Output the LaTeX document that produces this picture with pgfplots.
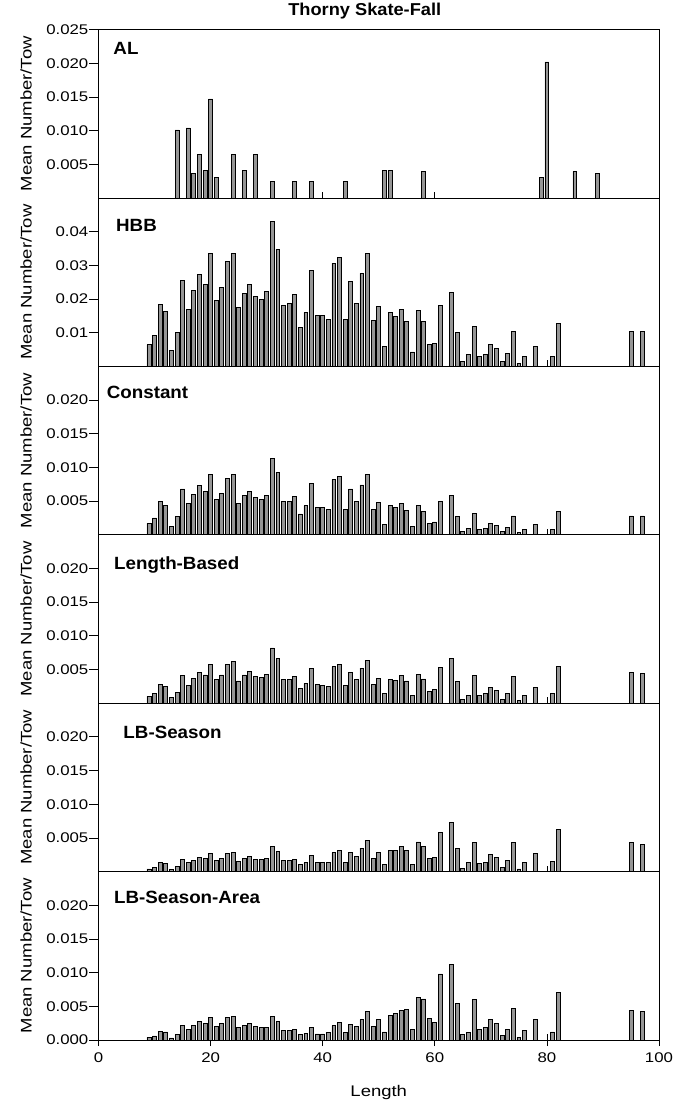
\documentclass[border=0pt]{standalone}
\usepackage{fontspec}
\setmainfont{Liberation Sans}
\newfontfamily\widesans[FakeStretch=1.2]{Liberation Sans}
\newfontfamily\tagsans[FakeStretch=1.06]{Liberation Sans}
\usepackage{pgfplots}
\pgfplotsset{compat=1.18}

\definecolor{barfill}{RGB}{150,150,150}

\pgfplotsset{
  panel/.style={
    scale only axis, width=560.5pt, height=168.4pt,
    anchor=south west,
    xmin=0, xmax=100, ymin=0, ymax=0.025,
    axis line style={line width=0.9pt},
    xtick={0,20,...,100}, xticklabels={},
    xtick pos=bottom, ytick pos=left,
    xtick align=inside, ytick align=outside,
    major tick length=9pt,
    xtick style={/pgfplots/major tick length=6pt},
    every tick/.style={black, line width=0.8pt},
    ytick={0.005,0.010,0.015,0.020},
    scaled y ticks=false,
    /pgf/number format/assume math mode=true,
    yticklabel style={font=\widesans\fontsize{14}{16}\selectfont, inner sep=1pt,
      /pgf/number format/fixed, /pgf/number format/fixed zerofill,
      /pgf/number format/precision=3},
    xticklabel style={font=\widesans\fontsize{14}{16}\selectfont, yshift=-5pt},
    ylabel={Mean Number/Tow},
    ylabel style={font=\widesans\fontsize{15.4}{17}\selectfont,
      at={(axis description cs:-0.1192,0.5)}, anchor=base},
  },
  bars/.style={ybar, bar width=0.7, fill=barfill, draw=black, line width=0.8pt},
}

% panel caption placed from the top-left corner of the axis
\newcommand{\paneltag}[3]{%
  \node[anchor=base west, inner sep=0pt, font=\tagsans\bfseries\fontsize{17.7}{19}\selectfont]
    at (rel axis cs:0,1) [xshift=#1pt, yshift=-#2pt] {#3};}

\begin{document}
\begin{tikzpicture}

% ---- AL ----
\begin{axis}[panel, at={(0pt,842pt)},
  ytick={0.005,0.010,0.015,0.020,0.025},
  title={Thorny Skate-Fall},
  title style={font=\tagsans\bfseries\fontsize{17.2}{19}\selectfont,
    at={(0.5,1)}, anchor=base, yshift=7.6pt, xshift=-14pt}]
\addplot[bars] coordinates {
(14,0.0101)(16,0.0104)(17,0.0036)(18,0.0065)(19,0.0041)(20,0.0147)(21,0.0030)
(24,0.0064)(26,0.0041)(28,0.0064)(31,0.0024)(35,0.0024)(38,0.0024)(44,0.0024)
(51,0.0041)(52,0.0041)(58,0.0039)(79,0.0030)(80,0.0202)(85,0.0039)(89,0.0036)};
\paneltag{14.8}{25}{AL}
\end{axis}

% ---- HBB ----
\begin{axis}[panel, at={(0pt,673.6pt)}, ymax=0.05,
  ytick={0.01,0.02,0.03,0.04},
  yticklabel style={/pgf/number format/precision=2}]
\addplot[bars] coordinates {
(9,0.0064)(10,0.0093)(11,0.0184)(12,0.0162)(13,0.0048)(14,0.0102)(15,0.0255)
(16,0.0170)(17,0.0226)(18,0.0273)(19,0.0244)(20,0.0336)(21,0.0195)(22,0.0235)
(23,0.0312)(24,0.0336)(25,0.0175)(26,0.0217)(27,0.0244)(28,0.0208)(29,0.0199)
(30,0.0222)(31,0.0431)(32,0.0348)(33,0.0182)(34,0.0187)(35,0.0214)(36,0.0116)
(37,0.0160)(38,0.0285)(39,0.0151)(40,0.0150)(41,0.0139)(42,0.0306)(43,0.0324)
(44,0.0139)(45,0.0252)(46,0.0188)(47,0.0276)(48,0.0336)(49,0.0137)(50,0.0178)
(51,0.0059)(52,0.0160)(53,0.0149)(54,0.0170)(55,0.0134)(56,0.0043)(57,0.0165)
(58,0.0134)(59,0.0064)(60,0.0068)(61,0.0181)(63,0.0220)(64,0.0100)(65,0.0016)
(66,0.0036)(67,0.0119)(68,0.0030)(69,0.0036)(70,0.0064)(71,0.0053)(72,0.0016)
(73,0.0039)(74,0.0104)(75,0.0009)(76,0.0030)(78,0.0059)(81,0.0030)(82,0.0127)
(95,0.0104)(97,0.0104)};
\paneltag{17.5}{33.7}{HBB}
\end{axis}

% ---- Constant ----
\begin{axis}[panel, at={(0pt,505.2pt)}]
\addplot[bars] coordinates {
(9,0.0017)(10,0.0025)(11,0.0050)(12,0.0044)(13,0.0013)(14,0.0027)(15,0.0068)
(16,0.0046)(17,0.0060)(18,0.0073)(19,0.0065)(20,0.0089)(21,0.0052)(22,0.0062)
(23,0.0083)(24,0.0089)(25,0.0047)(26,0.0058)(27,0.0065)(28,0.0055)(29,0.0053)
(30,0.0059)(31,0.0114)(32,0.0093)(33,0.0049)(34,0.0050)(35,0.0057)(36,0.0031)
(37,0.0043)(38,0.0076)(39,0.0041)(40,0.0040)(41,0.0037)(42,0.0082)(43,0.0086)
(44,0.0037)(45,0.0068)(46,0.0050)(47,0.0074)(48,0.0090)(49,0.0037)(50,0.0048)
(51,0.0016)(52,0.0043)(53,0.0040)(54,0.0046)(55,0.0036)(56,0.0012)(57,0.0044)
(58,0.0035)(59,0.0017)(60,0.0019)(61,0.0049)(63,0.0059)(64,0.0027)(65,0.0005)
(66,0.0010)(67,0.0032)(68,0.0008)(69,0.0010)(70,0.0017)(71,0.0014)(72,0.0005)
(73,0.0011)(74,0.0028)(75,0.0003)(76,0.0008)(78,0.0016)(81,0.0008)(82,0.0034)
(95,0.0028)(97,0.0028)};
\paneltag{8.2}{31.7}{Constant}
\end{axis}

% ---- Length-Based ----
\begin{axis}[panel, at={(0pt,336.8pt)}]
\addplot[bars] coordinates {
(9,0.0010)(10,0.0014)(11,0.0028)(12,0.0025)(13,0.0008)(14,0.0016)(15,0.0041)
(16,0.0027)(17,0.0037)(18,0.0045)(19,0.0042)(20,0.0058)(21,0.0035)(22,0.0042)
(23,0.0057)(24,0.0062)(25,0.0033)(26,0.0042)(27,0.0047)(28,0.0040)(29,0.0038)
(30,0.0043)(31,0.0082)(32,0.0066)(33,0.0035)(34,0.0035)(35,0.0040)(36,0.0022)
(37,0.0029)(38,0.0051)(39,0.0028)(40,0.0027)(41,0.0025)(42,0.0054)(43,0.0057)
(44,0.0026)(45,0.0046)(46,0.0035)(47,0.0052)(48,0.0064)(49,0.0028)(50,0.0037)
(51,0.0014)(52,0.0035)(53,0.0034)(54,0.0041)(55,0.0033)(56,0.0011)(57,0.0043)
(58,0.0036)(59,0.0018)(60,0.0020)(61,0.0053)(63,0.0067)(64,0.0032)(65,0.0006)
(66,0.0012)(67,0.0041)(68,0.0011)(69,0.0014)(70,0.0023)(71,0.0019)(72,0.0006)
(73,0.0015)(74,0.0040)(75,0.0004)(76,0.0012)(78,0.0024)(81,0.0014)(82,0.0054)
(95,0.0045)(97,0.0044)};
\paneltag{15.5}{34.4}{Length-Based}
\end{axis}

% ---- LB-Season ----
\begin{axis}[panel, at={(0pt,168.4pt)}]
\addplot[bars] coordinates {
(9,0.0004)(10,0.0006)(11,0.0013)(12,0.0012)(13,0.0003)(14,0.0007)(15,0.0018)
(16,0.0013)(17,0.0017)(18,0.0021)(19,0.0019)(20,0.0027)(21,0.0016)(22,0.0019)
(23,0.0027)(24,0.0029)(25,0.0015)(26,0.0019)(27,0.0022)(28,0.0018)(29,0.0018)
(30,0.0020)(31,0.0037)(32,0.0030)(33,0.0016)(34,0.0016)(35,0.0018)(36,0.0010)
(37,0.0013)(38,0.0024)(39,0.0013)(40,0.0013)(41,0.0013)(42,0.0028)(43,0.0031)
(44,0.0014)(45,0.0028)(46,0.0022)(47,0.0035)(48,0.0046)(49,0.0020)(50,0.0029)
(51,0.0011)(52,0.0031)(53,0.0031)(54,0.0038)(55,0.0032)(56,0.0011)(57,0.0044)
(58,0.0037)(59,0.0019)(60,0.0021)(61,0.0058)(63,0.0073)(64,0.0034)(65,0.0005)
(66,0.0013)(67,0.0043)(68,0.0012)(69,0.0014)(70,0.0025)(71,0.0021)(72,0.0006)
(73,0.0016)(74,0.0043)(75,0.0004)(76,0.0013)(78,0.0027)(81,0.0015)(82,0.0062)
(95,0.0043)(97,0.0040)};
\paneltag{24.8}{35.7}{LB-Season}
\end{axis}

% ---- LB-Season-Area ----
\begin{axis}[panel, at={(0pt,0pt)},
  ytick={0,0.005,0.010,0.015,0.020},
  xticklabels={0,20,40,60,80,100},
  xtick align=center,
  xtick style={/pgfplots/major tick length=12pt},
  xlabel={Length},
  xlabel style={font=\widesans\fontsize{15.4}{17}\selectfont,
    at={(axis description cs:0.5,0)}, anchor=center, yshift=-53pt}]
\addplot[bars] coordinates {
(9,0.0004)(10,0.0006)(11,0.0013)(12,0.0012)(13,0.0003)(14,0.0008)(15,0.0021)
(16,0.0016)(17,0.0021)(18,0.0027)(19,0.0024)(20,0.0033)(21,0.0020)(22,0.0025)
(23,0.0033)(24,0.0035)(25,0.0018)(26,0.0022)(27,0.0024)(28,0.0020)(29,0.0018)
(30,0.0019)(31,0.0035)(32,0.0027)(33,0.0014)(34,0.0014)(35,0.0015)(36,0.0008)
(37,0.0010)(38,0.0019)(39,0.0009)(40,0.0009)(41,0.0011)(42,0.0021)(43,0.0026)
(44,0.0011)(45,0.0023)(46,0.0020)(47,0.0030)(48,0.0043)(49,0.0020)(50,0.0030)
(51,0.0012)(52,0.0036)(53,0.0040)(54,0.0044)(55,0.0046)(56,0.0016)(57,0.0063)
(58,0.0061)(59,0.0032)(60,0.0026)(61,0.0098)(63,0.0112)(64,0.0054)(65,0.0008)
(66,0.0011)(67,0.0060)(68,0.0015)(69,0.0018)(70,0.0030)(71,0.0025)(72,0.0007)
(73,0.0015)(74,0.0047)(75,0.0004)(76,0.0014)(78,0.0030)(81,0.0012)(82,0.0071)
(95,0.0044)(97,0.0042)};
\paneltag{15.5}{31.7}{LB-Season-Area}
\end{axis}

% page extent around the panels
\path (-98.5pt,-70pt) rectangle (587.5pt,1040pt);
\end{tikzpicture}
\end{document}
